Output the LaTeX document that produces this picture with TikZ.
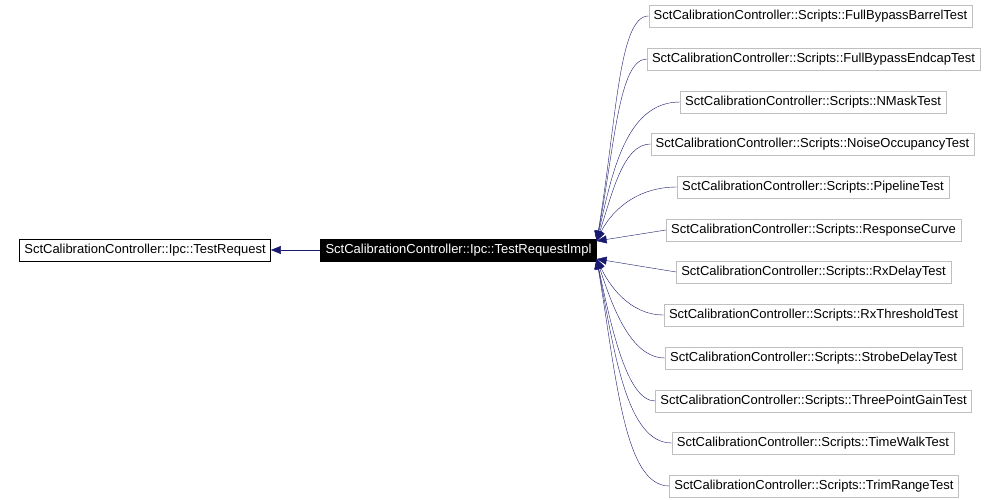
\documentclass[tikz,border=0pt]{standalone}
\usepackage{fontspec}
\setmainfont{Liberation Sans}
\usepackage{xcolor}
\usetikzlibrary{positioning,arrows.meta}
\definecolor{edgeblue}{HTML}{191970}
\definecolor{boxgray}{HTML}{BFBFBF}

\begin{document}
\begin{tikzpicture}[x=1pt, y=-1pt,
    every node/.style={font=\fontsize{13}{15}\selectfont, minimum height=22pt, inner xsep=5pt, inner ysep=0pt, anchor=center},
    classbox/.style={draw=boxgray, fill=white},
    basebox/.style={draw=black, fill=white},
    selfbox/.style={draw=black, fill=black, text=white},
    edge/.style={draw=edgeblue, -{Triangle[length=10pt, width=8pt, fill=edgeblue]}}]
    \useasboundingbox (0,0) rectangle (998,500);

    \node [basebox] (TR) at (145,250) {SctCalibrationController::Ipc::TestRequest};
    \node [selfbox] (TRI) at (458.5,250) {SctCalibrationController::Ipc::TestRequestImpl};

    \node [classbox] (FBB) at (810.5,16) {SctCalibrationController::Scripts::FullBypassBarrelTest};
    \node [classbox] (FBE) at (813.5,59) {SctCalibrationController::Scripts::FullBypassEndcapTest};
    \node [classbox] (NM) at (813,102) {SctCalibrationController::Scripts::NMaskTest};
    \node [classbox] (NO) at (812.5,144) {SctCalibrationController::Scripts::NoiseOccupancyTest};
    \node [classbox] (PL) at (813,187) {SctCalibrationController::Scripts::PipelineTest};
    \node [classbox] (RC) at (813.5,230) {SctCalibrationController::Scripts::ResponseCurve};
    \node [classbox] (RXD) at (813.5,272) {SctCalibrationController::Scripts::RxDelayTest};
    \node [classbox] (RXT) at (813.5,315) {SctCalibrationController::Scripts::RxThresholdTest};
    \node [classbox] (SD) at (813.5,358) {SctCalibrationController::Scripts::StrobeDelayTest};
    \node [classbox] (TPG) at (813.5,401) {SctCalibrationController::Scripts::ThreePointGainTest};
    \node [classbox] (TW) at (813,443) {SctCalibrationController::Scripts::TimeWalkTest};
    \node [classbox] (TRT) at (814,486) {SctCalibrationController::Scripts::TrimRangeTest};

    \coordinate (inU) at ([yshift=9pt]TRI.east);
    \coordinate (inL) at ([yshift=-9pt]TRI.east);

    \draw [edge] (TRI) -- (TR);

    % derived classes above
    \draw [edge] (FBB.west) .. controls +(-30,0) and +(20,-120) .. (inU);
    \draw [edge] (FBE.west) .. controls +(-28,0) and +(18,-95) .. (inU);
    \draw [edge] (NM.west) .. controls +(-55,0) and +(15,-65) .. (inU);
    \draw [edge] (NO.west) .. controls +(-28,0) and +(15,-45) .. (inU);
    \draw [edge] (PL.west) .. controls +(-45,0) and +(12,-25) .. (inU);
    \draw [edge] (RC.west) -- (inU);
    % derived classes below
    \draw [edge] (RXD.west) -- (inL);
    \draw [edge] (RXT.west) .. controls +(-35,0) and +(12,25) .. (inL);
    \draw [edge] (SD.west) .. controls +(-35,0) and +(15,45) .. (inL);
    \draw [edge] (TPG.west) .. controls +(-28,0) and +(15,70) .. (inL);
    \draw [edge] (TW.west) .. controls +(-45,0) and +(18,95) .. (inL);
    \draw [edge] (TRT.west) .. controls +(-45,0) and +(20,120) .. (inL);
\end{tikzpicture}
\end{document}
